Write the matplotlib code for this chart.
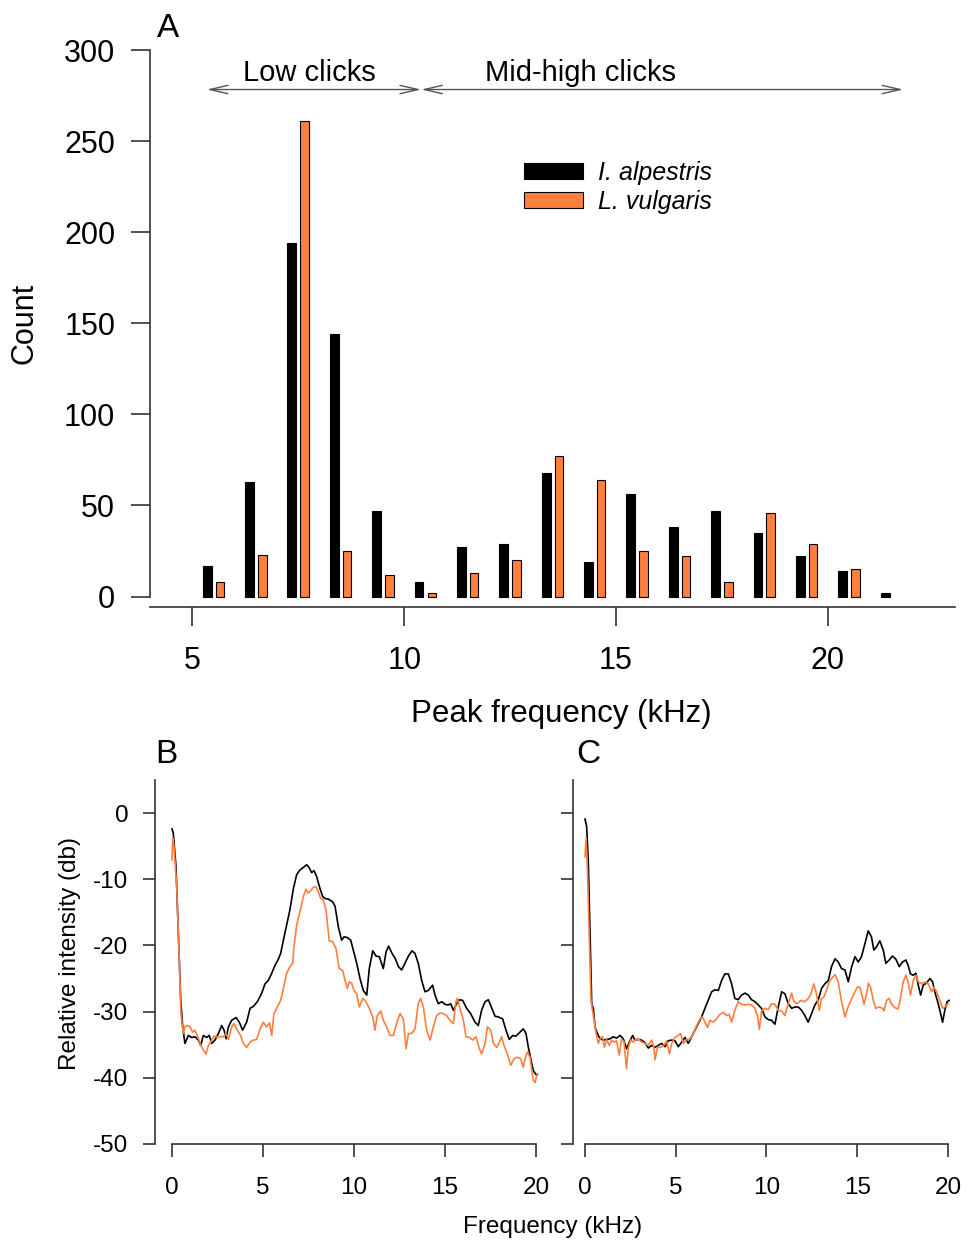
import matplotlib
matplotlib.use("Agg")
import matplotlib.pyplot as plt

plt.rcParams["font.family"] = ["Liberation Sans", "DejaVu Sans"]
plt.rcParams["axes.unicode_minus"] = False

# =========================================================
# DATA
# =========================================================

# panel A: peak frequency histogram (1 kHz bins, 5..21)
bins = list(range(5, 22))
count_alpestris = [17, 63, 194, 144, 47, 8, 27, 29, 68, 19, 56, 38, 47, 35, 22, 14, 2]
count_vulgaris = [8, 23, 261, 25, 12, 2, 13, 20, 77, 64, 25, 22, 8, 46, 29, 15, 0]

# panel B: mean spectra, low clicks (kHz, dB)
b_freq_alp = [0, 0.07, 0.22, 0.35, 0.48, 0.59, 0.71, 0.9, 1.08, 1.26, 1.45, 1.58, 1.72, 1.9, 2.05,
              2.18, 2.36, 2.55, 2.73, 2.86, 2.97, 3.1, 3.28, 3.52, 3.7, 3.88, 4.1, 4.29, 4.47, 4.69,
              4.93, 5.11, 5.29, 5.48, 5.66, 5.84, 5.97, 6.12, 6.3, 6.48, 6.67, 6.85, 7.03, 7.22, 7.4,
              7.55, 7.67, 7.8, 7.95, 8.13, 8.28, 8.41, 8.59, 8.83, 8.96, 9.14, 9.32, 9.45, 9.63, 9.82,
              9.96, 10.15, 10.33, 10.51, 10.7, 10.84, 11.03, 11.21, 11.39, 11.61, 11.76, 11.9, 12.09,
              12.27, 12.44, 12.62, 12.8, 12.99, 13.19, 13.35, 13.53, 13.72, 13.9, 14.08, 14.32, 14.45,
              14.63, 14.82, 15.0, 15.18, 15.31, 15.46, 15.6, 15.79, 15.97, 16.19, 16.41, 16.65, 16.83,
              17.01, 17.2, 17.38, 17.56, 17.75, 17.93, 18.17, 18.35, 18.53, 18.72, 18.9, 19.12, 19.3,
              19.45, 19.58, 19.71, 19.85, 20.0, 20.07]
b_db_alp = [-2.4, -3, -8.1, -18.2, -28.3, -32.3, -34.8, -33.6, -33.9, -33.8, -34.3, -35.1, -33.6, -33.9,
            -33.6, -34.8, -34.3, -33.3, -32.1, -32.8, -34.1, -32.3, -31.3, -30.9, -31.6, -32.8, -31.6,
            -29.5, -29.2, -28.5, -27.2, -25.8, -25.3, -24.2, -23, -22.1, -21.2, -19.2, -16.9, -14.6,
            -11.4, -9.3, -8.6, -8.2, -7.8, -8.3, -9, -8.7, -9.6, -11.4, -12.6, -12.9, -13, -13.4, -14.1,
            -17.2, -19.2, -18.7, -18.8, -19.2, -20.7, -22.7, -25, -26.8, -27.5, -23.5, -20.8, -21.6,
            -21.7, -23.5, -21, -20.1, -21.2, -22, -23.2, -23.7, -22.7, -21.6, -20.8, -21.2, -22.7, -25.3,
            -27, -26.8, -26, -27.5, -28.8, -28.5, -28.9, -29, -28.8, -29.8, -29, -28.2, -28.3, -29.5,
            -30.3, -31.6, -32.1, -29.8, -28.5, -28.2, -29.4, -30.7, -30.8, -31.1, -32.8, -34.2, -33.6,
            -33.7, -33.1, -32.6, -33.3, -35.4, -37.1, -38.9, -39.5, -39.5]

b_freq_vul = [0, 0.04, 0.11, 0.26, 0.4, 0.49, 0.62, 0.71, 0.84, 0.99, 1.14, 1.26, 1.39, 1.54, 1.68, 1.87,
              2.0, 2.12, 2.31, 2.45, 2.64, 2.82, 2.97, 3.1, 3.28, 3.41, 3.59, 3.77, 3.92, 4.1, 4.29, 4.47,
              4.65, 4.84, 5.02, 5.2, 5.35, 5.48, 5.6, 5.79, 5.97, 6.12, 6.3, 6.48, 6.63, 6.7, 6.85, 7.03,
              7.22, 7.36, 7.49, 7.62, 7.77, 7.91, 8.04, 8.17, 8.31, 8.46, 8.64, 8.83, 9.01, 9.19, 9.38,
              9.51, 9.63, 9.74, 9.87, 10.0, 10.15, 10.29, 10.48, 10.66, 10.84, 11.03, 11.15, 11.28, 11.47,
              11.61, 11.79, 11.98, 12.16, 12.34, 12.53, 12.71, 12.86, 12.99, 13.17, 13.35, 13.53, 13.66,
              13.81, 13.99, 14.18, 14.36, 14.54, 14.73, 14.91, 15.09, 15.27, 15.46, 15.6, 15.68, 15.82,
              16.01, 16.15, 16.34, 16.52, 16.7, 16.89, 17.01, 17.2, 17.33, 17.51, 17.66, 17.84, 17.99,
              18.11, 18.24, 18.43, 18.61, 18.79, 18.97, 19.16, 19.3, 19.4, 19.52, 19.67, 19.76, 19.85,
              19.95, 20.04]
b_db_vul = [-7.1, -3.8, -5.1, -11.1, -22.2, -30.3, -33.3, -32.3, -32.1, -32.3, -33.1, -32.8, -33.6, -34.8,
            -35.6, -36.4, -35.1, -34.6, -33.7, -33.8, -33.8, -33.8, -33.3, -34.2, -32.3, -31.8, -32.8,
            -33.6, -34.8, -35.4, -34.6, -34.3, -34.2, -32.6, -31.6, -32.3, -31.7, -33.6, -30.3, -29.3,
            -28.3, -26.5, -24.2, -23.2, -22.7, -20.2, -16.9, -14.9, -12.6, -11.5, -12.1, -11.7, -11.2,
            -11.1, -11.9, -12.9, -13.1, -14.6, -19.3, -19.4, -20.5, -23.5, -23.8, -25.3, -26.5, -25.5,
            -25.7, -26.8, -27.3, -29.3, -28, -28.5, -29.5, -30.8, -32.8, -30.6, -29.9, -31.3, -32.3,
            -33.6, -33.6, -31.8, -30.3, -31.1, -35.6, -33.3, -33.3, -32.6, -28.8, -28, -29.3, -32.8,
            -34.3, -32.3, -30.6, -30.2, -30.3, -30.6, -31.3, -31.8, -28.5, -28, -29.5, -31.3, -33.8,
            -33.9, -34.3, -33.8, -35.6, -36.4, -34.8, -32.3, -32.8, -34.8, -35.4, -34.6, -33.8, -35.1,
            -36.4, -38.1, -37.1, -36.9, -37.1, -38.4, -37.1, -36.1, -36.9, -38.6, -40.4, -40.7, -39.6]

# panel C: mean spectra, mid-high clicks (kHz, dB)
c_freq_alp = [0, 0.09, 0.18, 0.28, 0.37, 0.46, 0.55, 0.68, 0.83, 1.01, 1.19, 1.38, 1.56, 1.74, 1.93, 2.11,
              2.29, 2.48, 2.63, 2.75, 2.94, 3.12, 3.31, 3.49, 3.67, 3.86, 4.04, 4.22, 4.41, 4.59, 4.78,
              4.96, 5.14, 5.33, 5.51, 5.69, 5.88, 6.06, 6.24, 6.43, 6.61, 6.79, 6.98, 7.16, 7.35, 7.53,
              7.71, 7.9, 8.08, 8.26, 8.44, 8.63, 8.82, 9.0, 9.18, 9.37, 9.55, 9.73, 9.92, 10.1, 10.28,
              10.47, 10.65, 10.84, 11.02, 11.2, 11.39, 11.57, 11.76, 11.94, 12.12, 12.3, 12.49, 12.67,
              12.86, 13.04, 13.22, 13.41, 13.59, 13.78, 13.96, 14.14, 14.33, 14.51, 14.7, 14.88, 15.06,
              15.24, 15.43, 15.61, 15.79, 15.92, 16.07, 16.25, 16.44, 16.58, 16.77, 16.95, 17.14, 17.32,
              17.5, 17.69, 17.81, 17.94, 18.09, 18.24, 18.37, 18.5, 18.64, 18.82, 19.01, 19.16, 19.28,
              19.47, 19.6, 19.71, 19.83, 19.96, 20.07]
c_db_alp = [-0.9, -2, -7.1, -18.2, -28.8, -29.5, -32.3, -33.3, -34.1, -34.3, -34.2, -34.1, -33.8, -34,
            -33.6, -34.1, -35.6, -34.4, -33.6, -34.3, -34.2, -34.3, -34.7, -35.5, -35.1, -35.4, -35.1,
            -34.8, -35.3, -34.4, -34.3, -34.4, -35.3, -34.6, -33.9, -34.8, -33.8, -32.8, -31.8, -30.8,
            -29.5, -28.3, -27, -26.7, -26.8, -25.3, -24.3, -24.3, -25.8, -28, -28.2, -27.5, -27.2, -27.5,
            -28.2, -28.5, -29, -29.5, -30.8, -31.2, -31.3, -31.9, -29.3, -27, -27.3, -28.8, -29.5, -29.3,
            -29.3, -29.8, -30.6, -31.6, -30.3, -29, -28.2, -26.5, -25.8, -25.3, -23.2, -22, -22.5, -23.5,
            -23.7, -25.5, -23.2, -21.7, -22.5, -21.7, -19.7, -17.8, -18.7, -20.7, -20.2, -19.3, -20.7,
            -22.7, -22.2, -21.6, -22.1, -23.2, -22.5, -22.2, -23, -24.3, -24.5, -24.2, -26, -27.5, -26,
            -25.7, -25, -25.5, -27, -28.8, -30.3, -31.6, -29.8, -28.5, -28.3]

c_freq_vul = [0, 0.06, 0.13, 0.24, 0.33, 0.4, 0.5, 0.61, 0.73, 0.86, 0.97, 1.07, 1.19, 1.34, 1.47, 1.6,
              1.74, 1.89, 2.02, 2.15, 2.29, 2.39, 2.52, 2.66, 2.81, 2.94, 3.12, 3.31, 3.49, 3.67, 3.8,
              3.86, 3.99, 4.17, 4.35, 4.5, 4.65, 4.78, 4.96, 5.14, 5.27, 5.42, 5.6, 5.75, 5.93, 6.12,
              6.34, 6.48, 6.61, 6.76, 6.89, 7.07, 7.25, 7.44, 7.62, 7.81, 7.95, 8.08, 8.26, 8.45, 8.63,
              8.82, 9.0, 9.18, 9.37, 9.5, 9.61, 9.73, 9.92, 10.1, 10.28, 10.47, 10.65, 10.84, 11.02,
              11.2, 11.39, 11.51, 11.7, 11.88, 12.06, 12.25, 12.43, 12.61, 12.76, 12.91, 13.04, 13.17,
              13.31, 13.46, 13.59, 13.78, 13.96, 14.14, 14.33, 14.51, 14.7, 14.88, 15.01, 15.15, 15.29,
              15.38, 15.52, 15.62, 15.74, 15.89, 16.03, 16.22, 16.4, 16.48, 16.62, 16.77, 16.91, 17.08,
              17.26, 17.39, 17.54, 17.69, 17.81, 17.94, 18.09, 18.24, 18.37, 18.55, 18.73, 18.92, 19.1,
              19.23, 19.38, 19.56, 19.71, 19.83, 20.02]
c_db_vul = [-6.6, -3.8, -8.1, -19.2, -28.3, -29.5, -31.3, -33.3, -34.8, -33.9, -33.8, -35.4, -34.2, -35.1,
            -34.3, -34.6, -34.4, -36.6, -34.1, -34.6, -38.6, -35.4, -34.3, -34.6, -34.2, -34.1, -34.6,
            -34.8, -35.1, -34.3, -35.4, -37.3, -35.4, -35.4, -35.1, -34.4, -36.4, -34.8, -33.9, -33.6,
            -33.3, -34.8, -34.2, -34.2, -33.6, -32.3, -31.1, -30.8, -31.6, -32.4, -31.3, -31.6, -31.1,
            -30.4, -30.1, -30.6, -30.4, -31.6, -29.8, -28.5, -28.9, -29, -28.9, -29, -29.5, -30.6, -32.7,
            -29.9, -29.5, -29.7, -28.8, -28.9, -29.8, -29.9, -30.6, -28.8, -27.2, -28.5, -28.8, -28.3,
            -28.5, -28.2, -27.5, -25.8, -27.3, -29.8, -28, -27.8, -26.8, -25.5, -25, -24.4, -25.5, -28.5,
            -30.8, -29.2, -28, -27, -26.3, -26.3, -27.8, -28.9, -27.3, -25.7, -26.3, -28.3, -29.5, -29.3,
            -29.5, -29.9, -28.3, -28, -28.9, -29.4, -29.6, -28, -25.5, -24.5, -25.5, -27.5, -25.3, -24.5,
            -25.5, -25.8, -25.5, -25.8, -27, -26.3, -27, -28.3, -29.5, -29.3, -28.8]

BLACK = "black"
ORANGE = "#FF7F3F"
AXCOL = "#333333"

W, H = 972, 1241


def px_rect(left, top, right, bottom):
    return [left / W, 1 - bottom / H, (right - left) / W, (bottom - top) / H]


def style_axes(ax, tick_len, label_size, xpad, ypad):
    for side in ("top", "right"):
        ax.spines[side].set_visible(False)
    for side in ("left", "bottom"):
        ax.spines[side].set_color(AXCOL)
        ax.spines[side].set_linewidth(1.2)
    ax.tick_params(direction="out", length=tick_len, width=1.2, color=AXCOL,
                   labelsize=label_size)
    ax.tick_params(axis="x", pad=xpad)
    ax.tick_params(axis="y", pad=ypad)


fig = plt.figure(figsize=(W / 100, H / 100), dpi=100)

# =========================================================
# PANEL A
# =========================================================

axA = fig.add_axes(px_rect(150, 50, 955, 607))

# empty bins get no bar at all
alp_pairs = [(b, c) for b, c in zip(bins, count_alpestris) if c > 0]
vul_pairs = [(b, c) for b, c in zip(bins, count_vulgaris) if c > 0]

axA.bar([b + 0.35 for b, _ in alp_pairs], [c for _, c in alp_pairs], width=0.21, color=BLACK,
        edgecolor="black", linewidth=0.8, label="I. alpestris")
axA.bar([b + 0.65 for b, _ in vul_pairs], [c for _, c in vul_pairs], width=0.20, color=ORANGE,
        edgecolor="black", linewidth=0.8, label="L. vulgaris")
axA.set_xlim(4, 23)
axA.set_ylim(-5.76, 300)
axA.set_xticks([5, 10, 15, 20])
axA.set_yticks(range(0, 301, 50))
style_axes(axA, 13.5, 22, 14.5, 11.5)
axA.spines["left"].set_bounds(0, 300)

arrow_kw = dict(arrowstyle="<->,head_length=1.3,head_width=0.3", mutation_scale=10,
                lw=1.0, color="#555555", shrinkA=0, shrinkB=0)
axA.annotate("", xy=(5.34, 278.3), xytext=(10.4, 278.3), arrowprops=arrow_kw)
axA.annotate("", xy=(10.4, 278.3), xytext=(21.78, 278.3), arrowprops=arrow_kw)
axA.text(7.75, 283, "Low clicks", ha="center", va="baseline", fontsize=21)
axA.text(14.15, 283, "Mid-high clicks", ha="center", va="baseline", fontsize=21)

axA.legend(loc="upper left", bbox_to_anchor=(524 / W, 1 - 161 / H), bbox_transform=fig.transFigure,
           frameon=False, borderpad=0, borderaxespad=0, handlelength=2.36, handleheight=0.64,
           handletextpad=0.58, labelspacing=0.2, prop={"style": "italic", "size": 18})

fig.text(168.5 / W, 1 - 37 / H, "A", ha="center", va="baseline", fontsize=24)
fig.text(25 / W, 1 - 323 / H, "Count", ha="center", va="center", rotation=90, fontsize=22)
fig.text(561 / W, 1 - 714 / H, "Peak frequency (kHz)", ha="center", va="center", fontsize=22.5)

# =========================================================
# PANELS B AND C
# =========================================================

axB = fig.add_axes(px_rect(155, 780, 553, 1144))
axB.plot(b_freq_alp, b_db_alp, color=BLACK, lw=1.2)
axB.plot(b_freq_vul, b_db_vul, color=ORANGE, lw=1.2)
axB.set_xlim(-0.934, 20.934)

axC = fig.add_axes(px_rect(573, 780, 966, 1144))
axC.plot(c_freq_alp, c_db_alp, color=BLACK, lw=1.2)
axC.plot(c_freq_vul, c_db_vul, color=ORANGE, lw=1.2)
axC.set_xlim(-0.661, 21.0)

for ax in (axB, axC):
    ax.set_ylim(-50, 5)
    ax.set_xticks([0, 5, 10, 15, 20])
    ax.set_yticks(range(-50, 1, 10))
    style_axes(ax, 9, 17.5, 14.5, 10)
    ax.spines["bottom"].set_bounds(0, 20)
axC.set_yticklabels([])

fig.text(166.5 / W, 1 - 763 / H, "B", ha="center", va="baseline", fontsize=24)
fig.text(588 / W, 1 - 763 / H, "C", ha="center", va="baseline", fontsize=24)
fig.text(70 / W, 1 - 953 / H, "Relative intensity (db)", ha="center", va="center",
         rotation=90, fontsize=17.5)
fig.text(553 / W, 1 - 1227 / H, "Frequency (kHz)", ha="center", va="center", fontsize=17.5)

fig.savefig("out.png", dpi=100)
